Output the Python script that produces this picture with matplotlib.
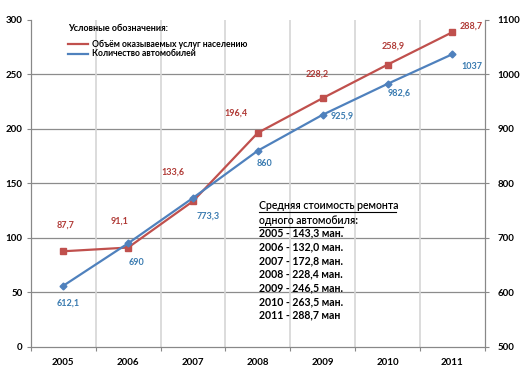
import numpy as np
import matplotlib.pyplot as plt

years = ['2005', '2006', '2007', '2008', '2009', '2010', '2011']
services = [87.7, 91.1, 133.6, 196.4, 228.2, 258.9, 288.7]
cars = [612.1, 690, 773.3, 860, 925.9, 982.6, 1037]
services_lbl = ['87,7', '91,1', '133,6', '196,4', '228,2', '258,9', '288,7']
cars_lbl = ['612,1', '690', '773,3', '860', '925,9', '982,6', '1037']
cost_lines = ['2005 - 143,3 ман.', '2006 - 132,0 ман.', '2007 - 172,8 ман.',
              '2008 - 228,4 ман.', '2009 - 246,5 ман.', '2010 - 263,5 ман.',
              '2011 - 288,7 ман']

plt.rcParams['font.family'] = ['Lato', 'DejaVu Sans']
red = '#C0504D'
blue = '#4F81BD'

fig = plt.figure(figsize=(5.23, 3.82), dpi=100)
ax = fig.add_axes([0.059, 0.092, 0.868, 0.856])
ax2 = ax.twinx()

x = np.arange(len(years))
ax.plot(x, services, color=red, lw=1.6, marker='s', ms=4.5, zorder=3)
ax2.plot(x, cars, color=blue, lw=1.6, marker='D', ms=3.5, zorder=3)

ax.set_xlim(-0.5, 6.5)
ax.set_ylim(0, 300)
ax2.set_ylim(500, 1100)
ax.set_yticks(np.arange(0, 301, 50))
ax2.set_yticks(np.arange(500, 1101, 100))

ax.set_xticks(np.arange(-0.5, 7, 1))
ax.set_xticklabels([])
ax.set_xticks(x, minor=True)
ax.set_xticklabels(years, minor=True)
ax.tick_params(axis='x', which='minor', length=0, pad=8)
ax.tick_params(axis='x', which='major', length=3, color='#888888')
ax.tick_params(axis='y', length=3, color='#888888', pad=3)
ax2.tick_params(axis='y', length=3, color='#888888', pad=6)
for lab in ax.get_xticklabels(minor=True) + ax.get_yticklabels() + ax2.get_yticklabels():
    lab.set_fontsize(7)
    lab.set_fontweight('bold')

for v in range(50, 300, 50):
    ax.axhline(v, color='#8c8c8c', lw=0.9, zorder=1)
for b in np.arange(0.5, 6, 1):
    ax.axvline(b, color='#d6d6d6', lw=1.2, zorder=1)

ax.spines['top'].set_visible(False)
ax2.spines['top'].set_visible(False)
for a in (ax, ax2):
    for sp in ['left', 'right', 'bottom']:
        a.spines[sp].set_color('#888888')

red_off = [(1.4, 18.7), (-6.5, 18.7), (-14.4, 21), (-15.8, 14.4),
           (-4.3, 17.3), (4.3, 13.7), (13.7, 4.3)]
blue_off = [(3.6, -12.2), (5.8, -14), (10.8, -13), (5, -9.4),
            (13.7, -0.7), (8.6, -6.5), (14.4, -8.6)]
for i in range(len(years)):
    ax.annotate(services_lbl[i], (x[i], services[i]), xytext=red_off[i],
                textcoords='offset points', ha='center', va='center',
                color='#B03A36', fontsize=6.5, fontweight='bold')
    ax2.annotate(cars_lbl[i], (x[i], cars[i]), xytext=blue_off[i],
                 textcoords='offset points', ha='center', va='center',
                 color='#3A7BB0', fontsize=6.5, fontweight='bold')

# legend block
fig.text(0.13, 0.918, 'Условные обозначения:', fontsize=6.5, fontweight='bold')
fig.add_artist(plt.Line2D([0.13, 0.168], [0.884, 0.884], color=red, lw=1.6))
fig.add_artist(plt.Line2D([0.13, 0.168], [0.859, 0.859], color=blue, lw=1.6))
fig.text(0.176, 0.884, 'Объём оказываемых услуг населению', fontsize=6.2,
         fontweight='bold', va='center')
fig.text(0.176, 0.859, 'Количество автомобилей', fontsize=6.2,
         fontweight='bold', va='center')

# cost text block
x0 = 0.495
fig.text(x0, 0.463, 'Средняя стоимость ремонта', fontsize=7.6, va='center',
         fontweight='semibold')
fig.text(x0, 0.424, 'одного автомобиля:', fontsize=7.6, va='center',
         fontweight='semibold')
fig.add_artist(plt.Line2D([x0, 0.757], [0.445, 0.445], color='black', lw=0.8))
fig.add_artist(plt.Line2D([x0, 0.655], [0.406, 0.406], color='black', lw=0.8))
for k, line in enumerate(cost_lines):
    fig.text(x0, 0.390 - k * 0.0358, line, fontsize=7.6, va='center',
             fontweight='bold')

fig.savefig('out.png', dpi=100)
